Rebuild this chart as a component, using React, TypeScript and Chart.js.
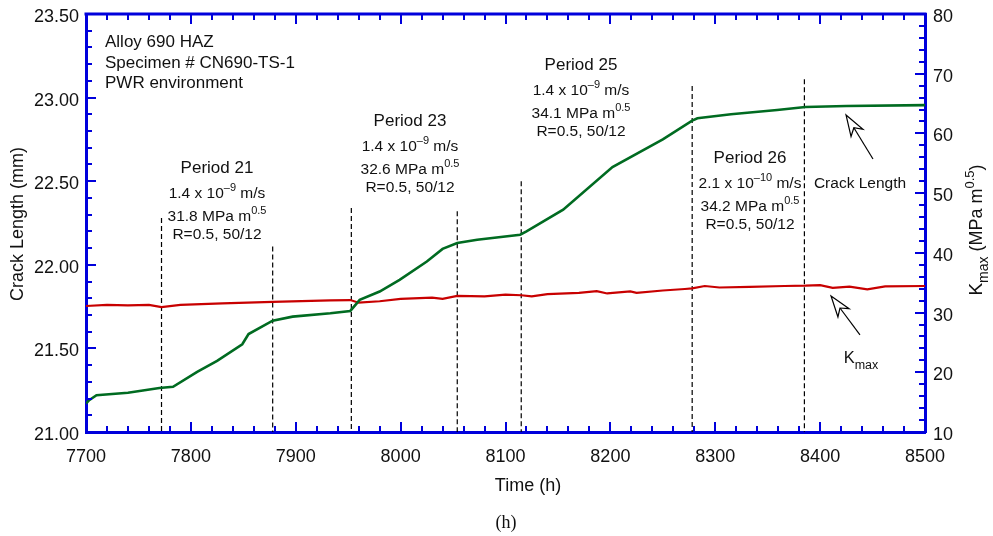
import React, { useEffect, useRef } from "react";
import { Chart, registerables } from "chart.js";

Chart.register(...registerables);

// ---- data ----
const crackTime = [7700, 7703, 7710, 7740, 7770, 7783, 7806, 7825, 7849, 7855, 7878, 7897, 7933, 7952, 7961, 7980, 7999, 8025, 8040, 8054, 8073, 8114, 8120, 8155, 8202, 8250, 8278, 8283, 8315, 8359, 8386, 8425, 8500];
const crackLength = [21.17, 21.19, 21.22, 21.235, 21.263, 21.27, 21.36, 21.425, 21.525, 21.586, 21.666, 21.69, 21.71, 21.724, 21.79, 21.84, 21.91, 22.02, 22.095, 22.13, 22.15, 22.18, 22.2, 22.33, 22.585, 22.75, 22.862, 22.876, 22.9, 22.926, 22.944, 22.95, 22.955];

const kTime = [7700, 7720, 7740, 7760, 7772, 7790, 7830, 7878, 7933, 7952, 7960, 7980, 8000, 8030, 8040, 8054, 8080, 8100, 8115, 8125, 8140, 8170, 8187, 8197, 8219, 8225, 8250, 8271, 8278, 8290, 8304, 8333, 8366, 8386, 8400, 8412, 8428, 8445, 8462, 8500];
const kMax = [31.1, 31.3, 31.2, 31.3, 30.9, 31.3, 31.55, 31.8, 32.05, 32.1, 31.65, 31.9, 32.3, 32.5, 32.3, 32.8, 32.7, 33.0, 32.9, 32.7, 33.1, 33.3, 33.6, 33.2, 33.55, 33.3, 33.7, 33.95, 34.05, 34.45, 34.2, 34.3, 34.45, 34.5, 34.6, 34.15, 34.35, 33.9, 34.4, 34.45];

const periodBoundaries = [7772, 7878, 7953, 8054, 8115, 8278, 8385];
const boundaryTops = [22.28, 22.11, 22.34, 22.32, 22.5, 23.07, 23.11];

const xTicks = [7700, 7800, 7900, 8000, 8100, 8200, 8300, 8400, 8500];
const yLeftTicks = [21.0, 21.5, 22.0, 22.5, 23.0, 23.5];
const yRightTicks = [10, 20, 30, 40, 50, 60, 70, 80];

const infoLines = ["Alloy 690 HAZ", "Specimen # CN690-TS-1", "PWR environment"];
const periodNames = ["Period 21", "Period 23", "Period 25", "Period 26"];
const periodRates = [["1.4 x 10", "–9"], ["1.4 x 10", "–9"], ["1.4 x 10", "–9"], ["2.1 x 10", "–10"]];
const periodK = ["31.8", "32.6", "34.1", "34.2"];
const periodR = ["R=0.5, 50/12", "R=0.5, 50/12", "R=0.5, 50/12", "R=0.5, 50/12"];

// ---- styles ----
const FONT = "'Liberation Sans', Arial, Helvetica, sans-serif";
const AXIS_BLUE = "#0000dc";
const GREEN = "#006b21";
const RED = "#c80000";
const TXT = "#111111";

// label layout (pixels)
const periodX = [217, 410, 581, 750];
const periodBase = [173, 126, 70, 163];

type Seg = [string, number, number];

function segWidth(ctx: CanvasRenderingContext2D, segs: Seg[]) {
  let w = 0;
  for (const s of segs) {
    ctx.font = `${s[1]}px ${FONT}`;
    w += ctx.measureText(s[0]).width;
  }
  return w;
}

function drawRich(ctx: CanvasRenderingContext2D, segs: Seg[], x: number, y: number, align: "center" | "left") {
  const total = segWidth(ctx, segs);
  let cx = align === "center" ? x - total / 2 : x;
  ctx.textAlign = "left";
  ctx.textBaseline = "alphabetic";
  for (const s of segs) {
    ctx.font = `${s[1]}px ${FONT}`;
    ctx.fillText(s[0], cx, y + s[2]);
    cx += ctx.measureText(s[0]).width;
  }
}

function drawArrow(ctx: CanvasRenderingContext2D, tail: [number, number], tip: [number, number]) {
  const dx = tip[0] - tail[0];
  const dy = tip[1] - tail[1];
  const len = Math.hypot(dx, dy);
  const ux = dx / len, uy = dy / len;
  const px = -uy, py = ux;
  const L = 21, W = 7, N = 15;
  const bx = tip[0] - ux * L, by = tip[1] - uy * L;
  const nx = tip[0] - ux * N, ny = tip[1] - uy * N;
  ctx.save();
  ctx.strokeStyle = "#000";
  ctx.lineWidth = 1.2;
  ctx.beginPath();
  ctx.moveTo(tail[0], tail[1]);
  ctx.lineTo(nx, ny);
  ctx.stroke();
  ctx.beginPath();
  ctx.moveTo(tip[0], tip[1]);
  ctx.lineTo(bx + px * W, by + py * W);
  ctx.lineTo(nx, ny);
  ctx.lineTo(bx - px * W, by - py * W);
  ctx.closePath();
  ctx.fillStyle = "#fff";
  ctx.fill();
  ctx.stroke();
  ctx.restore();
}

const decorPlugin = {
  id: "decor",
  afterDraw(chart: any) {
    const ctx: CanvasRenderingContext2D = chart.ctx;
    const xs = chart.scales.x;
    const yl = chart.scales.y;
    const yr = chart.scales.y2;
    const { left, right, top, bottom } = chart.chartArea;

    ctx.save();
    // top border
    ctx.strokeStyle = AXIS_BLUE;
    ctx.lineWidth = 3;
    ctx.beginPath();
    ctx.moveTo(left - 1.5, top);
    ctx.lineTo(right + 1.5, top);
    ctx.stroke();

    // inward ticks
    ctx.lineWidth = 2;
    ctx.beginPath();
    for (let v = 7700; v <= 8500; v += 20) {
      const p = Math.round(xs.getPixelForValue(v));
      const major = v % 100 === 0;
      const l = major ? 10 : 6;
      ctx.moveTo(p, bottom);
      ctx.lineTo(p, bottom - l);
      ctx.moveTo(p, top);
      ctx.lineTo(p, top + l);
    }
    for (let i = 0; i <= 25; i++) {
      const v = 21 + i * 0.1;
      const p = Math.round(yl.getPixelForValue(v));
      const l = i % 5 === 0 ? 10 : 6;
      ctx.moveTo(left, p);
      ctx.lineTo(left + l, p);
    }
    for (let v = 10; v <= 80; v += 2) {
      const p = Math.round(yr.getPixelForValue(v));
      const l = v % 10 === 0 ? 10 : 6;
      ctx.moveTo(right, p);
      ctx.lineTo(right - l, p);
    }
    ctx.stroke();

    ctx.fillStyle = TXT;
    // info text
    infoLines.forEach((t, i) => drawRich(ctx, [[t, 17, 0]], 105, 47 + i * 20.5, "left"));

    // period blocks
    for (let i = 0; i < periodNames.length; i++) {
      const x = periodX[i];
      const b = periodBase[i];
      drawRich(ctx, [[periodNames[i], 17, 0]], x, b, "center");
      drawRich(ctx, [[periodRates[i][0], 15.5, 0], [periodRates[i][1], 11, -7], [" m/s", 15.5, 0]], x, b + 25, "center");
      drawRich(ctx, [[periodK[i] + " MPa m", 15.5, 0], ["0.5", 11, -7]], x, b + 47.5, "center");
      drawRich(ctx, [[periodR[i], 15.5, 0]], x, b + 66, "center");
    }

    // labels
    drawRich(ctx, [["Crack Length", 15.5, 0]], 860, 188, "center");
    drawRich(ctx, [["K", 16.5, 0], ["max", 12.5, 6]], 861, 363, "center");

    // arrows (anchored to data coordinates)
    drawArrow(ctx,
      [xs.getPixelForValue(8450.4), yl.getPixelForValue(22.633)],
      [xs.getPixelForValue(8424.7), yl.getPixelForValue(22.896)]);
    drawArrow(ctx,
      [xs.getPixelForValue(8438), yr.getPixelForValue(26.25)],
      [xs.getPixelForValue(8410.4), yr.getPixelForValue(32.78)]);

    // axis titles
    drawRich(ctx, [["Time (h)", 18, 0]], 528, 491, "center");

    ctx.save();
    ctx.translate(23, 224);
    ctx.rotate(-Math.PI / 2);
    drawRich(ctx, [["Crack Length (mm)", 18, 0]], 0, 0, "center");
    ctx.restore();

    ctx.save();
    ctx.translate(982, 230);
    ctx.rotate(-Math.PI / 2);
    drawRich(ctx, [["K", 19, 0], ["max", 14, 6], [" (MPa m", 18, 0], ["0.5", 13, -8], [")", 18, 0]], 0, 0, "center");
    ctx.restore();

    // caption
    ctx.font = `18px 'Liberation Serif', 'Times New Roman', serif`;
    ctx.textAlign = "center";
    ctx.textBaseline = "alphabetic";
    ctx.fillText("(h)", 506, 528);

    ctx.restore();
  },
};

const fitVertical = (w: number) => (s: any) => {
  s.width = w;
  s.paddingTop = 0;
  s.paddingBottom = 0;
};

export default function App() {
  const ref = useRef<HTMLCanvasElement | null>(null);

  useEffect(() => {
    if (!ref.current) return;
    const boundarySets = periodBoundaries.map((t, i) => ({
      label: `boundary${i}`,
      data: [{ x: t, y: boundaryTops[i] }, { x: t, y: 21.0 }],
      yAxisID: "y",
      borderColor: "#000",
      borderWidth: 1.2,
      borderDash: [5, 3],
      pointRadius: 0,
      fill: false,
    }));

    const chart = new Chart(ref.current, {
      type: "line",
      data: {
        datasets: [
          {
            label: "Crack Length",
            data: crackTime.map((t, i) => ({ x: t, y: crackLength[i] })),
            yAxisID: "y",
            borderColor: GREEN,
            borderWidth: 2.6,
            pointRadius: 0,
            tension: 0,
            fill: false,
          },
          {
            label: "Kmax",
            data: kTime.map((t, i) => ({ x: t, y: kMax[i] })),
            yAxisID: "y2",
            borderColor: RED,
            borderWidth: 2.2,
            pointRadius: 0,
            tension: 0,
            fill: false,
          },
          ...boundarySets,
        ],
      },
      options: {
        animation: false,
        responsive: false,
        devicePixelRatio: 1,
        layout: { padding: { top: 14, left: 0, right: 0, bottom: 0 } },
        plugins: {
          legend: { display: false },
          tooltip: { enabled: false },
        },
        scales: {
          x: {
            type: "linear",
            min: 7700,
            max: 8500,
            afterFit: (s: any) => { s.height = 104; s.paddingLeft = 0; s.paddingRight = 0; },
            afterBuildTicks: (s: any) => { s.ticks = xTicks.map((v) => ({ value: v })); },
            ticks: { font: { family: FONT, size: 18 }, color: TXT, padding: 14, maxRotation: 0, callback: (v: any) => String(v) },
            grid: { display: false, drawTicks: false },
            border: { display: true, color: AXIS_BLUE, width: 3 },
          },
          y: {
            type: "linear",
            position: "left",
            min: 21,
            max: 23.5,
            afterFit: fitVertical(86),
            afterBuildTicks: (s: any) => { s.ticks = yLeftTicks.map((v) => ({ value: v })); },
            ticks: { font: { family: FONT, size: 18 }, color: TXT, padding: 7, labelOffset: 3, callback: (v: any) => Number(v).toFixed(2) },
            grid: { display: false, drawTicks: false },
            border: { display: true, color: AXIS_BLUE, width: 3 },
          },
          y2: {
            type: "linear",
            position: "right",
            min: 10,
            max: 80,
            afterFit: fitVertical(68),
            afterBuildTicks: (s: any) => { s.ticks = yRightTicks.map((v) => ({ value: v })); },
            ticks: { font: { family: FONT, size: 18 }, color: TXT, padding: 8, labelOffset: 3, callback: (v: any) => String(v) },
            grid: { display: false, drawTicks: false },
            border: { display: true, color: AXIS_BLUE, width: 3 },
          },
        },
      },
      plugins: [decorPlugin],
    } as any);
    return () => chart.destroy();
  }, []);

  return (
    <div style={{ position: "absolute", left: 0, top: 0, width: 993, height: 536, background: "#fff" }}>
      <canvas ref={ref} width={993} height={536} style={{ width: 993, height: 536, display: "block" }} />
    </div>
  );
}
